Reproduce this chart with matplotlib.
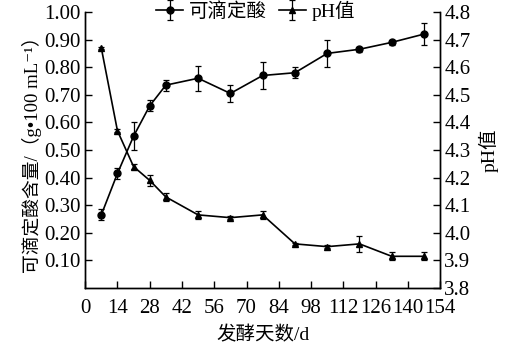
import matplotlib.pyplot as plt

days = [7, 14, 21, 28, 35, 49, 63, 77, 91, 105, 119, 133, 147]
acid = [0.265, 0.415, 0.55, 0.66, 0.735, 0.76, 0.705, 0.77, 0.78, 0.85, 0.865, 0.89, 0.92]
acid_err = [0.02, 0.02, 0.05, 0.02, 0.02, 0.045, 0.03, 0.05, 0.02, 0.05, 0.01, 0.01, 0.04]
ph = [4.67, 4.37, 4.24, 4.19, 4.13, 4.065, 4.055, 4.065, 3.96, 3.95, 3.96, 3.915, 3.915]
ph_err = [0.005, 0.005, 0.01, 0.02, 0.015, 0.015, 0.005, 0.015, 0.005, 0.005, 0.03, 0.015, 0.015]

x_ticks = list(range(0, 155, 14))
left_ticks = [0.10, 0.20, 0.30, 0.40, 0.50, 0.60, 0.70, 0.80, 0.90, 1.00]
right_ticks = [3.8, 3.9, 4.0, 4.1, 4.2, 4.3, 4.4, 4.5, 4.6, 4.7, 4.8]

plt.rcParams["font.family"] = ["Liberation Serif", "Noto Sans CJK SC", "DejaVu Sans"]
plt.rcParams["font.size"] = 14

fig = plt.figure(figsize=(5.13, 3.53), dpi=100)
ax = fig.add_axes([0.166, 0.184, 0.692, 0.782])
ax2 = ax.twinx()

l1 = ax.errorbar(days, acid, yerr=acid_err, color="black", marker="o", markersize=5,
                 linewidth=1.2, elinewidth=0.9, capsize=2.5, capthick=0.9, label="可滴定酸")
l2 = ax2.errorbar(days, ph, yerr=ph_err, color="black", marker="^", markersize=5,
                  linewidth=1.2, elinewidth=0.9, capsize=2.5, capthick=0.9, label="pH值")

ax.set_xlim(0, 154)
ax.set_ylim(0, 1.0)
ax2.set_ylim(3.8, 4.8)
ax.set_xticks(x_ticks)
ax.set_yticks(left_ticks)
ax.set_yticklabels([f"{v:.2f}" for v in left_ticks])
ax2.set_yticks(right_ticks)
ax2.set_yticklabels([f"{v:.1f}" for v in right_ticks])

for a in (ax, ax2):
    a.spines["top"].set_visible(False)
    for s in a.spines.values():
        s.set_linewidth(1.0)
    a.tick_params(direction="in", length=5, width=1.0, pad=3, labelsize=15)
ax.tick_params(axis="x", pad=8)

ax.set_xlabel("发酵天数/d", labelpad=6)
ax.set_ylabel("可滴定酸含量/（g•100 mL⁻¹）", labelpad=2, fontsize=13.5)
ax2.set_ylabel("pH值", labelpad=6)

ax.legend(handles=[l1, l2], loc="upper center", bbox_to_anchor=(0.48, 1.07), ncol=2,
          frameon=False, handlelength=1.4, handletextpad=0.3, columnspacing=0.6,
          borderaxespad=0)

fig.savefig("out.png")
